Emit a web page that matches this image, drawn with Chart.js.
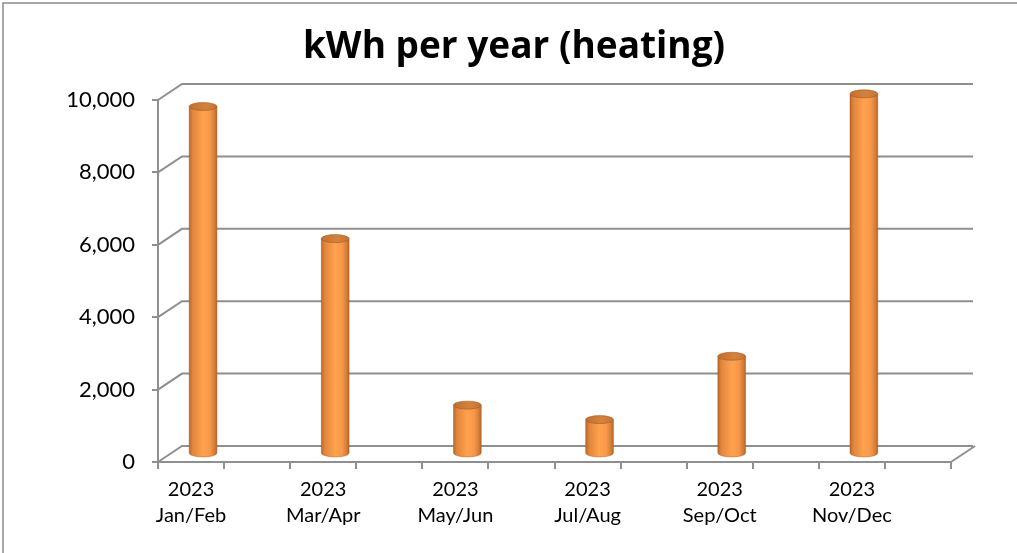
<!DOCTYPE html>
<html>
<head>
<meta charset="utf-8">
<script src="https://cdn.jsdelivr.net/npm/chart.js@4"></script>
<style>
  html, body { margin: 0; padding: 0; background: #fff; }
  #wrap { width: 1017px; height: 553px; }
</style>
</head>
<body>
<div id="wrap"><canvas id="c" width="1017" height="553"></canvas></div>
<script>
// Two-month periods of 2023 and the heating energy used in each
const years = ['2023', '2023', '2023', '2023', '2023', '2023'];
const periods = ['Jan/Feb', 'Mar/Apr', 'May/Jun', 'Jul/Aug', 'Sep/Oct', 'Nov/Dec'];
const kwh = [9600, 5950, 1350, 950, 2700, 9950];
const yTicks = [0, 2000, 4000, 6000, 8000, 10000];
const titleText = 'kWh per year (heating)';

// Each period occupies a slot followed by an empty spacer slot on the category axis
const labels = [];
const values = [];
periods.forEach((p, i) => {
  labels.push([years[i], p]);
  values.push(kwh[i]);
  labels.push('');
  values.push(null);
});

const GRID = '#8f8f8f';
const DEPTH = { dx: 24, dy: -16 };     // back wall offset
const MID = { dx: 12, dy: -8 };        // cylinder depth position

// Outer frame and centred title
const frameAndTitle = {
  id: 'frameAndTitle',
  beforeDraw(chart) {
    const ctx = chart.ctx;
    ctx.save();
    ctx.strokeStyle = '#8a8a8a';
    ctx.lineWidth = 1.5;
    ctx.beginPath();
    ctx.moveTo(3, chart.height + 2);
    ctx.lineTo(3, 3);
    ctx.lineTo(chart.width + 2, 3);
    ctx.stroke();
    ctx.restore();
  },
  afterDraw(chart) {
    const ctx = chart.ctx;
    ctx.save();
    ctx.fillStyle = '#000';
    ctx.font = 'bold 37px "Open Sans"';
    ctx.textAlign = 'center';
    ctx.textBaseline = 'alphabetic';
    ctx.fillText(titleText, 514, 58);
    ctx.restore();
  }
};

// Walls, floor and gridlines of the 3-D frame
const frame3d = {
  id: 'frame3d',
  beforeDatasetsDraw(chart) {
    const { ctx, chartArea: a, scales: { y } } = chart;
    ctx.save();
    ctx.strokeStyle = GRID;
    ctx.lineWidth = 2;
    ctx.lineCap = 'butt';
    yTicks.forEach(v => {
      const py = y.getPixelForValue(v);
      ctx.beginPath();
      ctx.moveTo(a.left, py);
      ctx.lineTo(a.left + DEPTH.dx, py + DEPTH.dy);
      ctx.lineTo(a.right + DEPTH.dx - 2, py + DEPTH.dy);
      ctx.stroke();
    });
    // right edge of the floor
    ctx.beginPath();
    ctx.moveTo(a.right, a.bottom);
    ctx.lineTo(a.right + DEPTH.dx, a.bottom + DEPTH.dy);
    ctx.stroke();
    ctx.restore();
  }
};

// Cylinders drawn from the bar elements laid out by the scales
const cylinders = {
  id: 'cylinders',
  afterDatasetsDraw(chart) {
    const ctx = chart.ctx;
    const meta = chart.getDatasetMeta(0);
    meta.data.forEach((bar, i) => {
      if (values[i] == null) return;
      const cx = bar.x + MID.dx;
      const w = bar.width;
      const rx = w / 2;
      const ry = 4;
      const top = bar.y + MID.dy;
      const bottom = bar.base + MID.dy;
      const left = cx - rx;

      const g = ctx.createLinearGradient(left, 0, left + w, 0);
      g.addColorStop(0, '#b8672a');
      g.addColorStop(0.12, '#e0853b');
      g.addColorStop(0.5, '#ffa24e');
      g.addColorStop(0.75, '#f7984a');
      g.addColorStop(0.92, '#d27c36');
      g.addColorStop(1, '#b0642a');

      ctx.save();
      ctx.beginPath();
      ctx.moveTo(left, top);
      ctx.lineTo(left, bottom);
      ctx.ellipse(cx, bottom, rx, ry, 0, Math.PI, 0, true);
      ctx.lineTo(left + w, top);
      ctx.closePath();
      ctx.fillStyle = g;
      ctx.fill();
      ctx.strokeStyle = 'rgba(170,95,35,0.6)';
      ctx.lineWidth = 0.8;
      ctx.stroke();

      const tg = ctx.createLinearGradient(left, 0, left + w, 0);
      tg.addColorStop(0, '#c2712f');
      tg.addColorStop(0.6, '#d4833d');
      tg.addColorStop(1, '#c47338');
      ctx.beginPath();
      ctx.ellipse(cx, top, rx, ry, 0, 0, Math.PI * 2);
      ctx.fillStyle = tg;
      ctx.fill();
      ctx.strokeStyle = 'rgba(160,88,30,0.7)';
      ctx.stroke();
      ctx.restore();
    });
  }
};

new Chart(document.getElementById('c'), {
  type: 'bar',
  data: {
    labels: labels,
    datasets: [{
      label: 'kWh',
      data: values,
      backgroundColor: 'rgba(0,0,0,0)',
      borderWidth: 0,
      categoryPercentage: 1,
      barPercentage: 0.42
    }]
  },
  options: {
    responsive: false,
    animation: false,
    devicePixelRatio: 1,
    layout: { padding: { left: 0, right: 66, top: 100, bottom: 0 } },
    plugins: {
      legend: { display: false },
      tooltip: { enabled: false },
      title: { display: false }
    },
    scales: {
      x: {
        grid: { display: true, drawOnChartArea: false, drawTicks: true, tickLength: 7, color: GRID, lineWidth: 2, offset: true },
        border: { display: true, color: GRID, width: 2 },
        ticks: {
          color: '#000',
          autoSkip: false,
          maxRotation: 0,
          padding: 7,
          font: { family: 'Lato', size: 20, lineHeight: 1.32 }
        },
        afterFit(s) { s.height = 91; }
      },
      y: {
        min: 0,
        max: 10000,
        afterBuildTicks(s) { s.ticks = yTicks.map(v => ({ value: v })); },
        grid: { display: true, drawOnChartArea: false, drawTicks: true, tickLength: 6, color: GRID, lineWidth: 2 },
        border: { display: true, color: GRID, width: 2 },
        ticks: {
          color: '#000',
          padding: 17,
          font: { family: 'Lato', size: 22 },
          callback: v => v.toLocaleString('en-US')
        },
        afterFit(s) { s.width = 158; }
      }
    }
  },
  plugins: [frameAndTitle, frame3d, cylinders]
});
</script>
</body>
</html>
